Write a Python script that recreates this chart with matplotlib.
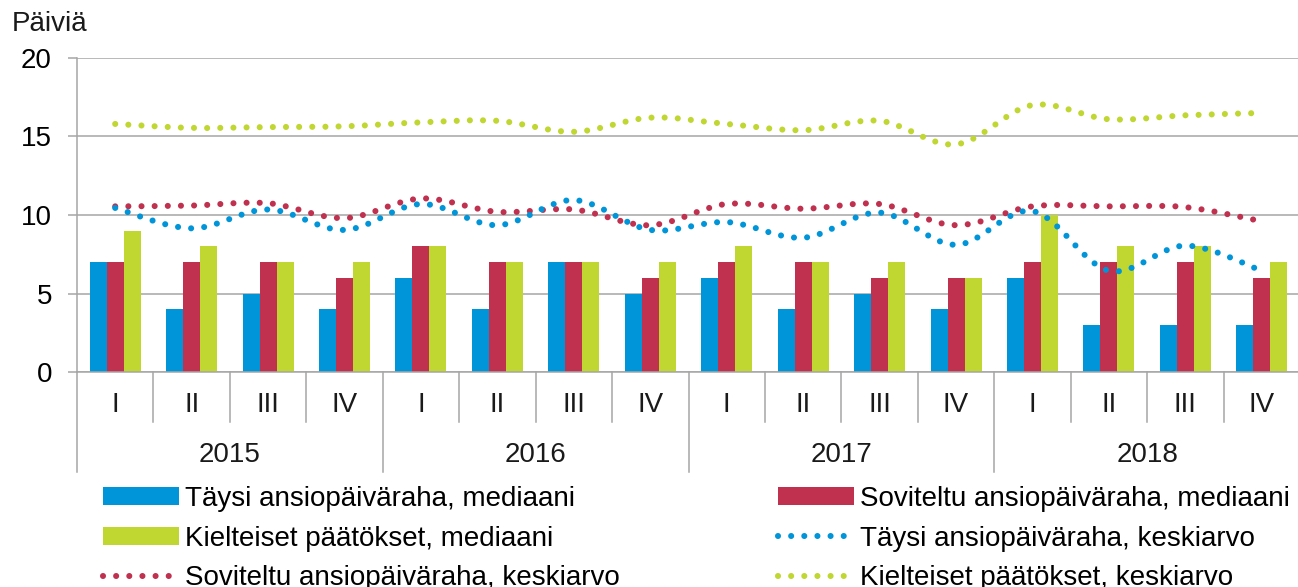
import matplotlib
matplotlib.use("Agg")
import matplotlib.pyplot as plt
from matplotlib.path import Path
from matplotlib.patches import PathPatch, Patch
from matplotlib.lines import Line2D
import numpy as np

plt.rcParams['font.family'] = ['Liberation Sans', 'DejaVu Sans']

quarters = ['I', 'II', 'III', 'IV'] * 4
years = ['2015', '2016', '2017', '2018']

taysi_med = [7, 4, 5, 4, 6, 4, 7, 5, 6, 4, 5, 4, 6, 3, 3, 3]
soviteltu_med = [7, 7, 7, 6, 8, 7, 7, 6, 7, 7, 6, 6, 7, 7, 7, 6]
kielteiset_med = [9, 8, 7, 7, 8, 7, 7, 7, 8, 7, 7, 6, 10, 8, 8, 7]

taysi_ka = [10.45, 9.15, 10.35, 9.05, 10.7, 9.35, 10.95, 9.05, 9.55, 8.55, 10.15, 8.1, 10.25, 6.45, 8.05, 6.45]
soviteltu_ka = [10.55, 10.6, 10.75, 9.8, 11.05, 10.2, 10.35, 9.35, 10.7, 10.4, 10.7, 9.35, 10.55, 10.55, 10.5, 9.6]
kielteiset_ka = [15.8, 15.55, 15.6, 15.65, 15.9, 16.0, 15.3, 16.2, 15.8, 15.4, 16.0, 14.5, 17.0, 16.1, 16.35, 16.5]

labels = ['Täysi ansiopäiväraha, mediaani', 'Soviteltu ansiopäiväraha, mediaani',
          'Kielteiset päätökset, mediaani', 'Täysi ansiopäiväraha, keskiarvo',
          'Soviteltu ansiopäiväraha, keskiarvo', 'Kielteiset päätökset, keskiarvo']

BLUE = '#0095D9'
RED = '#C0304F'
GREEN = '#C0D631'
GRID = '#A6A6A6'
FS = 20

W, H = 1298, 587
fig = plt.figure(figsize=(W / 100, H / 100), dpi=100)
ax_l, ax_r, ax_t, ax_b = 77, 1300, 58, 372
ax = fig.add_axes([ax_l / W, 1 - ax_b / H, (ax_r - ax_l) / W, (ax_b - ax_t) / H])
axh = ax_b - ax_t

n = len(quarters)
x = np.arange(n)
bw = 1 / 4.5
ax.bar(x - bw, taysi_med, bw, color=BLUE, zorder=2)
ax.bar(x, soviteltu_med, bw, color=RED, zorder=2)
ax.bar(x + bw, kielteiset_med, bw, color=GREEN, zorder=2)


def smooth_path(xs, ys):
    pts = np.column_stack([xs, ys]).astype(float)
    verts = [pts[0]]
    codes = [Path.MOVETO]
    m = len(pts)
    for i in range(m - 1):
        p0 = pts[max(i - 1, 0)]
        p1 = pts[i]
        p2 = pts[i + 1]
        p3 = pts[min(i + 2, m - 1)]
        c1 = p1 + (p2 - p0) / 6.0
        c2 = p2 - (p3 - p1) / 6.0
        verts += [c1, c2, p2]
        codes += [Path.CURVE4] * 3
    return Path(verts, codes)


LW = 4.4
DASH = (0, (0.001, 2.15))
for vals, col in [(kielteiset_ka, GREEN), (soviteltu_ka, RED), (taysi_ka, BLUE)]:
    pp = PathPatch(smooth_path(x, vals), fill=False, edgecolor=col, lw=LW,
                   linestyle=DASH, capstyle='round', zorder=3)
    ax.add_patch(pp)

ax.set_xlim(-0.5, n - 0.5)
ax.set_ylim(0, 20)
ax.set_yticks([0, 5, 10, 15, 20])
ax.tick_params(axis='y', labelsize=FS, length=6.5, width=1.1, color=GRID, pad=11.5)
ax.yaxis.grid(True, color=GRID, lw=1.1, zorder=0)
ax.set_axisbelow(True)
ax.set_xticks([])
for s in ['top', 'right']:
    ax.spines[s].set_visible(False)
ax.spines['left'].set_color(GRID)
ax.spines['left'].set_linewidth(1.1)
ax.spines['bottom'].set_color(GRID)
ax.spines['bottom'].set_linewidth(1.1)

tr = ax.get_xaxis_transform()
# separators
for i in range(1, n):
    xb = i - 0.5
    y1 = -100 / axh if i % 4 == 0 else -50 / axh
    ax.plot([xb, xb], [0, y1], transform=tr, color=GRID, lw=1.1, clip_on=False)
ax.plot([-0.5, -0.5], [0, -100 / axh], transform=tr, color=GRID, lw=1.1, clip_on=False)

for i, q in enumerate(quarters):
    ax.text(i, -33 / axh, q, transform=tr, ha='center', va='center', fontsize=FS, color='#1a1a1a')
for j, yv in enumerate(years):
    ax.text(4 * j + 1.5, -83 / axh, yv, transform=tr, ha='center', va='center', fontsize=FS, color='#1a1a1a')

fig.text(12 / W, 1 - 31 / H, 'Päiviä', fontsize=FS, ha='left', va='baseline', color='#1a1a1a')

# legends
def bar_handle(c):
    return Patch(facecolor=c, edgecolor='none')

def dot_handle(c):
    return Line2D([], [], color=c, lw=LW, linestyle=(0, (0.001, 2.15)), dash_capstyle='round')

h1 = [bar_handle(BLUE), bar_handle(GREEN), dot_handle(RED)]
l1 = [labels[0], labels[2], labels[4]]
h2 = [bar_handle(RED), dot_handle(BLUE), dot_handle(GREEN)]
l2 = [labels[1], labels[3], labels[5]]

common = dict(frameon=False, fontsize=FS, handlelength=2.75, handleheight=0.6,
              handletextpad=0.2, labelspacing=0.49, borderpad=0, borderaxespad=0,
              loc='upper left')
leg1 = fig.legend(h1, l1, bbox_to_anchor=(103 / W, 1 - 486 / H), **common)
leg2 = fig.legend(h2, l2, bbox_to_anchor=(778 / W, 1 - 486 / H), **common)

fig.savefig('out.png', dpi=100)
